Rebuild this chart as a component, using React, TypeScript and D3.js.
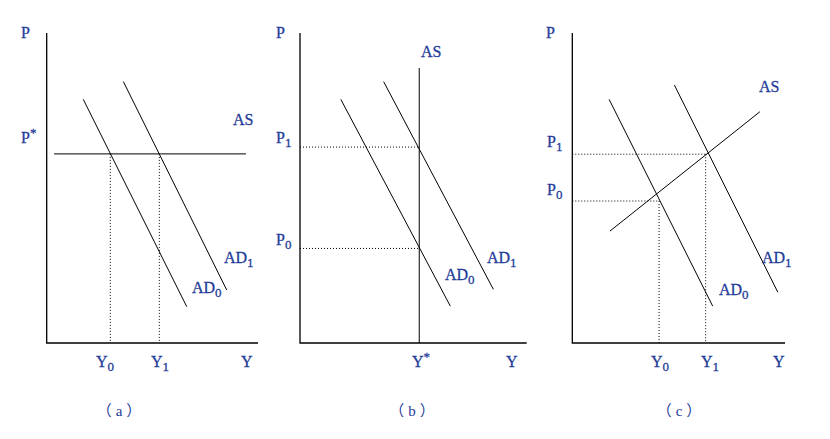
import React from "react";
import * as d3 from "d3";

type Pt = [number, number]; // [Y (output), P (price)] in 0..100 units

// panel (a): horizontal AS
const adA0: Pt[] = [[17.3, 78.6], [66.3, 11.7]];
const adA1: Pt[] = [[36.3, 84.3], [85.2, 17.1]];
const asA: Pt[] = [[3.5, 61], [94.3, 61]];
const eqA: Pt[] = [[30.1, 61], [53.3, 61]];

// panel (b): vertical AS
const adB0: Pt[] = [[18.0, 78.6], [66.3, 11.9]];
const adB1: Pt[] = [[36.9, 84.3], [85.3, 17.3]];
const asB: Pt[] = [[52.6, 0], [52.6, 88.7]];
const eqB: Pt[] = [[52.6, 30.5], [52.6, 63.2]];

// panel (c): upward AS
const adC0: Pt[] = [[17.3, 78.6], [66.0, 11.9]];
const adC1: Pt[] = [[48.0, 83.2], [96.6, 16.4]];
const asC: Pt[] = [[17.7, 36.1], [88.2, 74.6]];
const eqC: Pt[] = [[40.8, 45.8], [62.7, 60.9]];

const captions = ["a", "b", "c"];

type Label = { main: string; sub?: string; sup?: string; x: number; y: number };

const panels = [
  {
    x0: 46.7, w: 211.3,
    lines: [adA0, adA1, asA], eq: eqA, dropV: true, dropH: false,
    caption: captions[0], capX: 121,
    labels: [
      { main: "P", x: 21, y: 38 },
      { main: "P", sup: "*", x: 21, y: 143 },
      { main: "AS", x: 233, y: 125 },
      { main: "AD", sub: "1", x: 224, y: 263 },
      { main: "AD", sub: "0", x: 192, y: 293 },
      { main: "Y", sub: "0", x: 96, y: 367 },
      { main: "Y", sub: "1", x: 151, y: 367 },
      { main: "Y", x: 241, y: 367 },
    ] as Label[],
  },
  {
    x0: 300, w: 226.7,
    lines: [adB0, adB1, asB], eq: eqB, dropV: false, dropH: true,
    caption: captions[1], capX: 414,
    labels: [
      { main: "P", x: 276, y: 38 },
      { main: "AS", x: 421, y: 57 },
      { main: "P", sub: "1", x: 276, y: 143 },
      { main: "P", sub: "0", x: 276, y: 245 },
      { main: "AD", sub: "1", x: 487, y: 263 },
      { main: "AD", sub: "0", x: 445, y: 280 },
      { main: "Y", sup: "*", x: 412, y: 367 },
      { main: "Y", x: 506, y: 367 },
    ] as Label[],
  },
  {
    x0: 572.3, w: 212.7,
    lines: [adC0, adC1, asC], eq: eqC, dropV: true, dropH: true,
    caption: captions[2], capX: 681,
    labels: [
      { main: "P", x: 546, y: 38 },
      { main: "AS", x: 759, y: 92 },
      { main: "P", sub: "1", x: 547, y: 147 },
      { main: "P", sub: "0", x: 547, y: 195 },
      { main: "AD", sub: "1", x: 762, y: 263 },
      { main: "AD", sub: "0", x: 719, y: 295 },
      { main: "Y", sub: "0", x: 651, y: 367 },
      { main: "Y", sub: "1", x: 701, y: 367 },
      { main: "Y", x: 773, y: 367 },
    ] as Label[],
  },
];

const W = 830;
const H = 439;
const yTop = 33;
const yBase = 343;
const blue = "#1f3d99";
const font = "Liberation Serif";
const cjk = "Noto Sans CJK SC";

export default function App() {
  const y = d3.scaleLinear().domain([0, 100]).range([yBase, yTop]);
  const line = (sx: d3.ScaleLinear<number, number>) =>
    d3.line<Pt>().x((d) => sx(d[0])).y((d) => y(d[1]));

  return (
    <svg
      width={W}
      height={H}
      viewBox={`0 0 ${W} ${H}`}
      style={{ position: "fixed", left: 0, top: 0, background: "#fff" }}
    >
      {panels.map((p, i) => {
        const x = d3.scaleLinear().domain([0, 100]).range([p.x0, p.x0 + p.w]);
        const path = line(x);
        return (
          <g key={i}>
            {/* axes */}
            <path
              d={`M${x(0)},${y(100)}V${y(0)}H${x(100)}`}
              fill="none"
              stroke="#000"
              strokeWidth={1.3}
            />
            {p.lines.map((l, j) => (
              <path key={j} d={path(l) || ""} fill="none" stroke="#000" strokeWidth={1} />
            ))}
            {p.eq.map((e, j) => (
              <g key={j} stroke="#000" strokeWidth={1} strokeDasharray="1,2">
                {p.dropV && <line x1={x(e[0])} x2={x(e[0])} y1={y(e[1])} y2={y(0)} />}
                {p.dropH && <line x1={x(0)} x2={x(e[0])} y1={y(e[1])} y2={y(e[1])} />}
              </g>
            ))}
            {p.labels.map((lb, j) => (
              <text
                key={j}
                x={lb.x}
                y={lb.y}
                fill={blue}
                stroke={blue}
                strokeWidth={0.3}
                fontFamily={font}
                fontSize={16}
              >
                {lb.main}
                {lb.sub && (
                  <tspan fontSize={13} dy={4}>
                    {lb.sub}
                  </tspan>
                )}
                {lb.sup && (
                  <tspan fontSize={13} dy={-6}>
                    {lb.sup}
                  </tspan>
                )}
              </text>
            ))}
            <text
              x={p.capX}
              y={416}
              textAnchor="middle"
              fill={blue}
              fontSize={15}
              letterSpacing={4}
            >
              <tspan fontFamily={cjk}>（</tspan>
              <tspan fontFamily={font}>{p.caption}</tspan>
              <tspan fontFamily={cjk}>）</tspan>
            </text>
          </g>
        );
      })}
    </svg>
  );
}
